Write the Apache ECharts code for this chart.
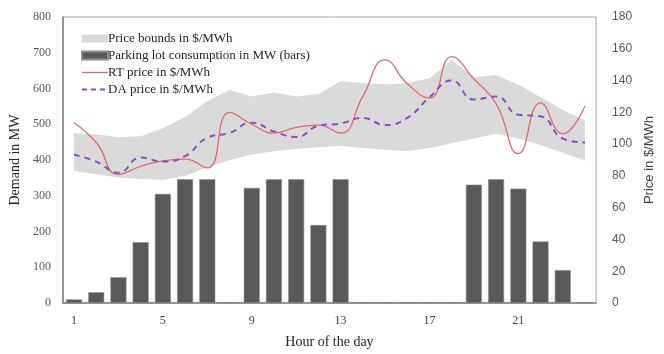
<!DOCTYPE html>
<html>
<head>
<meta charset="utf-8">
<script src="https://cdn.jsdelivr.net/npm/echarts@6/dist/echarts.min.js"></script>
<style>
  html, body { margin: 0; padding: 0; background: #ffffff; }
  #chart { width: 664px; height: 354px; }
</style>
</head>
<body>
<div id="chart"></div>
<script>
// Hour of the day
const hours = ['1','2','3','4','5','6','7','8','9','10','11','12','13','14','15','16','17','18','19','20','21','22','23','24'];

// Parking lot consumption in MW (bars, left axis)
const consumption = [10, 30, 72, 170, 305, 346, 346, 0, 322, 346, 346, 218, 346, 0, 0, 0, 0, 0, 331, 346, 320, 172, 92, 0];

// Real-time price in $/MWh (right axis)
const rtPrice = [113.5, 101, 81, 86, 89.5, 90.5, 85, 120, 112.5, 107, 110.5, 112, 107, 130, 153, 138, 129, 155, 141, 125.5, 94, 126, 106.5, 124];

// Day-ahead price in $/MWh (right axis)
const daPrice = [93.5, 89, 82, 91.5, 89, 92.5, 104, 107, 113.5, 108, 104.5, 111.5, 113, 116.5, 112, 116.5, 129.5, 140, 128, 130, 118.5, 117.5, 103.5, 101];

// Price bounds in $/MWh
const upperBound = [107, 106, 104.5, 105, 110, 117, 127, 134, 130, 132.5, 130, 131.5, 139.5, 138.5, 137.5, 138.5, 141.5, 153, 142, 143.5, 137.5, 129.5, 121.5, 115];
const lowerBound = [83, 81, 79, 78, 77.5, 80, 85.5, 90, 93.5, 95.5, 97, 98, 99, 97.5, 96.5, 95.5, 97.5, 100.5, 103.5, 106.5, 103.5, 99.5, 94.5, 89.5];

// Left / right axis ticks
const demandTicks = { min: 0, max: 800, interval: 100 };
const priceTicks = { min: 0, max: 180, interval: 20 };

const bandWidth = upperBound.map((u, i) => +(u - lowerBound[i]).toFixed(2));

const serif = "'Liberation Serif', 'DejaVu Serif', serif";
const sans = "'Liberation Sans', 'Open Sans', sans-serif";

const rtColor = '#e06b6f';
const daColor = '#8a4fc4';

const chart = echarts.init(document.getElementById('chart'), null, { renderer: 'canvas' });

chart.setOption({
  animation: false,
  backgroundColor: '#ffffff',
  grid: {
    left: 60, right: 53, top: 17, bottom: 40,
    show: true, borderColor: '#a6a6a6', borderWidth: 1
  },
  legend: {
    orient: 'vertical',
    left: 76, top: 27,
    itemWidth: 26, itemHeight: 8, itemGap: 4,
    textStyle: { fontFamily: serif, fontSize: 13, color: '#262626', padding: [0, 0, 0, -5] },
    data: [
      { name: 'Price bounds in $/MWh', icon: 'rect', itemStyle: { color: '#d9d9d9' } },
      { name: 'Parking lot consumption in MW (bars)', icon: 'rect', itemStyle: { color: '#595959' } },
      { name: 'RT price in $/MWh', itemStyle: { opacity: 0 }, lineStyle: { color: rtColor, width: 1.3 } },
      { name: 'DA price in $/MWh', itemStyle: { opacity: 0 }, lineStyle: { color: daColor, width: 2, type: [5, 4] } }
    ]
  },
  xAxis: {
    type: 'category',
    data: hours,
    boundaryGap: true,
    name: 'Hour of the day',
    nameLocation: 'middle',
    nameGap: 32,
    nameTextStyle: { fontFamily: serif, fontSize: 14, color: '#262626' },
    axisLine: { lineStyle: { color: '#808080', width: 1.5 } },
    axisTick: { show: false },
    axisLabel: { interval: 3, fontFamily: serif, fontSize: 12, color: '#404040', margin: 12 }
  },
  yAxis: [
    {
      type: 'value',
      min: demandTicks.min, max: demandTicks.max, interval: demandTicks.interval,
      name: 'Demand in MW',
      nameLocation: 'middle',
      nameGap: 38,
      nameTextStyle: { fontFamily: serif, fontSize: 14, color: '#262626' },
      axisLine: { show: true, lineStyle: { color: '#808080', width: 1.5 } },
      axisTick: { show: false },
      splitLine: { show: false },
      axisLabel: { fontFamily: serif, fontSize: 12, color: '#595959', margin: 12 }
    },
    {
      type: 'value',
      position: 'right',
      min: priceTicks.min, max: priceTicks.max, interval: priceTicks.interval,
      name: 'Price in $/MWh',
      nameLocation: 'middle',
      nameGap: 40,
      nameRotate: 90,
      nameTextStyle: { fontFamily: sans, fontSize: 13, color: '#404040' },
      axisLine: { show: false },
      axisTick: { show: false },
      splitLine: { show: false },
      axisLabel: { fontFamily: sans, fontSize: 12, color: '#595959', margin: 16 }
    }
  ],
  series: [
    {
      name: 'bound-base',
      type: 'line',
      yAxisIndex: 1,
      stack: 'bounds',
      data: lowerBound,
      symbol: 'none',
      lineStyle: { opacity: 0 },
      silent: true,
      z: 1
    },
    {
      name: 'Price bounds in $/MWh',
      type: 'line',
      yAxisIndex: 1,
      stack: 'bounds',
      data: bandWidth,
      symbol: 'none',
      lineStyle: { opacity: 0 },
      areaStyle: { color: '#dadada', opacity: 1 },
      itemStyle: { color: '#d9d9d9' },
      silent: true,
      z: 1
    },
    {
      name: 'Parking lot consumption in MW (bars)',
      type: 'bar',
      yAxisIndex: 0,
      data: consumption,
      barWidth: '72%',
      itemStyle: { color: '#595959', borderColor: '#8c8c8c', borderWidth: 0.6 },
      z: 2
    },
    {
      name: 'RT price in $/MWh',
      type: 'line',
      yAxisIndex: 1,
      data: rtPrice,
      smooth: 0.5,
      symbol: 'none',
      lineStyle: { color: rtColor, width: 1.3 },
      itemStyle: { color: rtColor },
      z: 3
    },
    {
      name: 'DA price in $/MWh',
      type: 'line',
      yAxisIndex: 1,
      data: daPrice,
      smooth: 0.5,
      symbol: 'none',
      lineStyle: { color: daColor, width: 2, type: [6, 5] },
      itemStyle: { color: daColor },
      z: 4
    }
  ]
});
</script>
</body>
</html>
